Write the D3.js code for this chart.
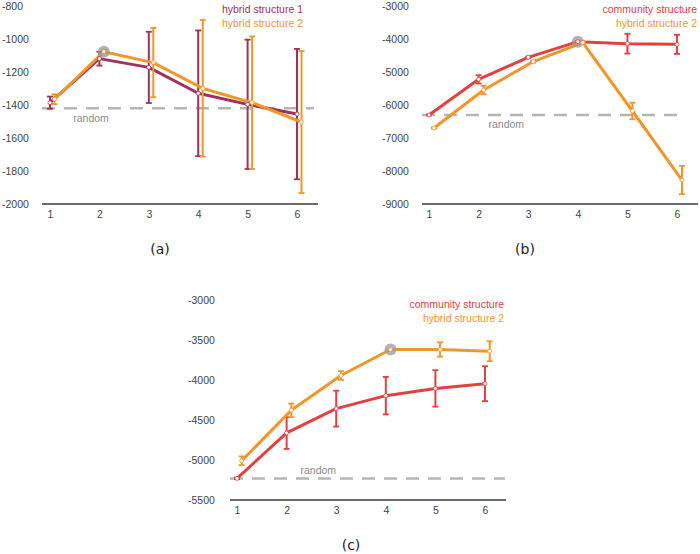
<!DOCTYPE html>
<html><head><meta charset="utf-8">
<script src="https://cdn.jsdelivr.net/npm/d3@7"></script>
<style>body{margin:0;background:#fff}svg{display:block}</style>
</head><body>
<svg id="chart" width="700" height="554"></svg>
<script>
const xValues = [1, 2, 3, 4, 5, 6];

// Panel (a)
const aHybrid1 = [-1386, -1119, -1172, -1329, -1396, -1455];
const aHybrid1Err = [37, 42, 216, 381, 392, 395];
const aHybrid2 = [-1365, -1077, -1143, -1299, -1386, -1503];
const aHybrid2Err = [30, 12, 210, 414, 402, 430];
const aRandom = -1420;
const aTicks = [-800, -1000, -1200, -1400, -1600, -1800, -2000];

// Panel (b)
const bCommunity = [-6303, -5222, -4555, -4081, -4141, -4162];
const bCommunityErr = [15, 125, 25, 20, 300, 290];
const bHybrid2 = [-6697, -5545, -4687, -4111, -6182, -8273];
const bHybrid2Err = [15, 130, 30, 20, 250, 430];
const bRandom = -6303;
const bTicks = [-3000, -4000, -5000, -6000, -7000, -8000, -9000];

// Panel (c)
const cCommunity = [-5229, -4659, -4354, -4191, -4100, -4041];
const cCommunityErr = [10, 200, 225, 235, 229, 219];
const cHybrid2 = [-5008, -4375, -3938, -3612, -3612, -3634];
const cHybrid2Err = [55, 85, 55, 10, 90, 125];
const cRandom = -5229;
const cTicks = [-3000, -3500, -4000, -4500, -5000, -5500];

const COL = {h1: "#a2305c", h2: "#f0962b", comm: "#e2413f"};
const FONT = "Liberation Sans, Arial, sans-serif";

const svg = d3.select("#chart");

function panel(cfg) {
  const g = svg.append("g");
  const x = d3.scaleLinear().domain([1, 6]).range(cfg.xr);
  const y = d3.scaleLinear().domain(cfg.yd).range(cfg.yr);

  // y tick labels
  g.selectAll(".yl").data(cfg.ticks).join("text")
    .attr("x", cfg.labelX).attr("y", d => y(d)).attr("dy", "0.35em")
    .attr("font-family", FONT).attr("font-size", 10.5).attr("fill", "#444")
    .text(d => d);

  // x axis via d3 axis
  const ax = g.append("g").attr("transform", `translate(0,${cfg.axisY})`)
    .call(d3.axisBottom(x).tickValues(xValues).tickFormat(d3.format("d")).tickSize(0).tickPadding(7));
  ax.select(".domain").remove();
  ax.selectAll("text").attr("font-family", FONT).attr("font-size", 10.5).attr("fill", "#444");
  g.append("line").attr("x1", cfg.axisX[0]).attr("x2", cfg.axisX[1])
    .attr("y1", cfg.axisY).attr("y2", cfg.axisY)
    .attr("stroke", "#6b6b6b").attr("stroke-width", 2);

  // random baseline
  g.append("line").attr("x1", cfg.axisX[0]).attr("x2", cfg.randEnd)
    .attr("y1", y(cfg.random)).attr("y2", y(cfg.random))
    .attr("stroke", "#b5b5b5").attr("stroke-width", 2.5).attr("stroke-dasharray", "13,9");
  g.append("text").attr("x", x(cfg.randLabelAt)).attr("y", y(cfg.random) + cfg.randLabelDy)
    .attr("dy", "0.35em").attr("font-family", FONT).attr("font-size", 10.5).attr("fill", "#8a8a8a")
    .text("random");

  const line = d3.line().x(d => d[0]).y(d => d[1]);

  cfg.series.forEach(s => {
    const pts = s.values.map((v, i) => [x(xValues[i]) + s.dx, y(v), s.err[i]]);
    g.append("path").attr("d", line(pts)).attr("fill", "none")
      .attr("stroke", s.color).attr("stroke-width", 3).attr("stroke-linejoin", "round");
    const eg = g.append("g");
    pts.forEach(p => {
      const y1 = y(y.invert(p[1]) + p[2]), y2 = y(y.invert(p[1]) - p[2]);
      eg.append("line").attr("x1", p[0]).attr("x2", p[0]).attr("y1", y1).attr("y2", y2)
        .attr("stroke", s.color).attr("stroke-width", 2);
      [y1, y2].forEach(yy => eg.append("line").attr("x1", p[0] - 3).attr("x2", p[0] + 3)
        .attr("y1", yy).attr("y2", yy).attr("stroke", s.color).attr("stroke-width", 1.8));
    });
    s.pts = pts;
  });

  // highlight
  const hs = cfg.series[cfg.highlight.series];
  const hp = hs.pts[cfg.highlight.index];
  g.append("circle").attr("cx", hp[0]).attr("cy", hp[1]).attr("r", 6)
    .attr("fill", "#9a9a9a").attr("opacity", 0.75);

  cfg.series.forEach(s => {
    g.selectAll(null).data(s.pts).join("circle")
      .attr("cx", d => d[0]).attr("cy", d => d[1]).attr("r", 2)
      .attr("fill", "#fff").attr("stroke", s.color).attr("stroke-width", 0.8);
  });

  // legend
  cfg.series.forEach((s, i) => {
    g.append("text").attr("x", cfg.legendX).attr("y", cfg.legendY + i * 14).attr("dy", "0.35em")
      .attr("text-anchor", "end").attr("font-family", FONT).attr("font-size", 10.5)
      .attr("fill", s.color).text(s.name);
  });

  // caption
  g.append("text").attr("x", cfg.caption[0]).attr("y", cfg.caption[1]).attr("dy", "0.35em")
    .attr("text-anchor", "middle").attr("font-family", "DejaVu Sans, sans-serif")
    .attr("font-size", 14).attr("fill", "#222").text(cfg.captionText);
}

panel({
  xr: [50, 297], yd: [-2000, -800], yr: [204, 6], ticks: aTicks, labelX: 2,
  axisY: 204, axisX: [42, 318], random: aRandom, randEnd: 314, randLabelAt: 1.47, randLabelDy: 10,
  series: [
    {name: "hybrid structure 1", values: aHybrid1, err: aHybrid1Err, color: COL.h1, dx: 0},
    {name: "hybrid structure 2", values: aHybrid2, err: aHybrid2Err, color: COL.h2, dx: 4.5}
  ],
  highlight: {series: 1, index: 1},
  legendX: 303, legendY: 9, caption: [160, 249], captionText: "(a)"
});

panel({
  xr: [429, 677], yd: [-9000, -3000], yr: [204, 6], ticks: bTicks, labelX: 382,
  axisY: 204, axisX: [422, 698], random: bRandom, randEnd: 684, randLabelAt: 2.2, randLabelDy: 9,
  series: [
    {name: "community structure", values: bCommunity, err: bCommunityErr, color: COL.comm, dx: 0},
    {name: "hybrid structure 2", values: bHybrid2, err: bHybrid2Err, color: COL.h2, dx: 5}
  ],
  highlight: {series: 0, index: 3},
  legendX: 697, legendY: 9, caption: [525, 249], captionText: "(b)"
});

panel({
  xr: [237, 485], yd: [-5500, -3000], yr: [500, 300.7], ticks: cTicks, labelX: 188,
  axisY: 500, axisX: [230, 506], random: cRandom, randEnd: 505, randLabelAt: 2.28, randLabelDy: -8,
  series: [
    {name: "community structure", values: cCommunity, err: cCommunityErr, color: COL.comm, dx: 0},
    {name: "hybrid structure 2", values: cHybrid2, err: cHybrid2Err, color: COL.h2, dx: 4.7}
  ],
  highlight: {series: 1, index: 3},
  legendX: 504, legendY: 304, caption: [351, 545], captionText: "(c)"
});
</script>
</body></html>
